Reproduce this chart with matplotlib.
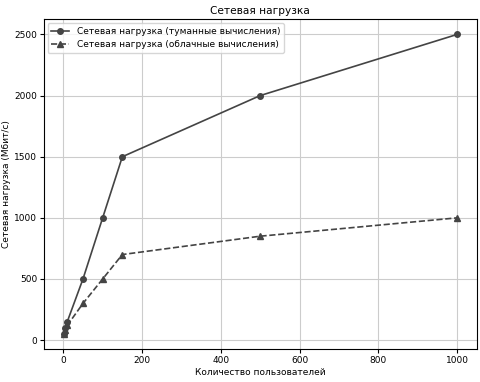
import matplotlib
matplotlib.use("Agg")
import matplotlib.pyplot as plt

users = [1, 5, 10, 50, 100, 150, 500, 1000]
fog_load = [50, 100, 150, 500, 1000, 1500, 2000, 2500]
cloud_load = [50, 80, 120, 300, 500, 700, 850, 1000]

title = "Сетевая нагрузка"
xlabel = "Количество пользователей"
ylabel = "Сетевая нагрузка (Мбит/с)"
fog_label = "Сетевая нагрузка (туманные вычисления)"
cloud_label = "Сетевая нагрузка (облачные вычисления)"

plt.rcParams['font.size'] = 6.5
fig, ax = plt.subplots(figsize=(4.81, 3.82), dpi=100)
ax.plot(users, fog_load, '-o', color='#444444', markersize=4, linewidth=1.2, label=fog_label)
ax.plot(users, cloud_load, '--^', color='#444444', markersize=4, linewidth=1.2, label=cloud_label)
ax.set_title(title, fontsize=7.6, pad=4)
ax.set_xlabel(xlabel, labelpad=2)
ax.set_ylabel(ylabel, labelpad=2)
ax.tick_params(length=3, pad=2)
ax.grid(True, color='#cccccc', linewidth=0.8)
ax.legend(loc='upper left', borderaxespad=0.4)
fig.subplots_adjust(left=0.0915, right=0.991, top=0.949, bottom=0.0864)
fig.savefig("out.png", dpi=100)
